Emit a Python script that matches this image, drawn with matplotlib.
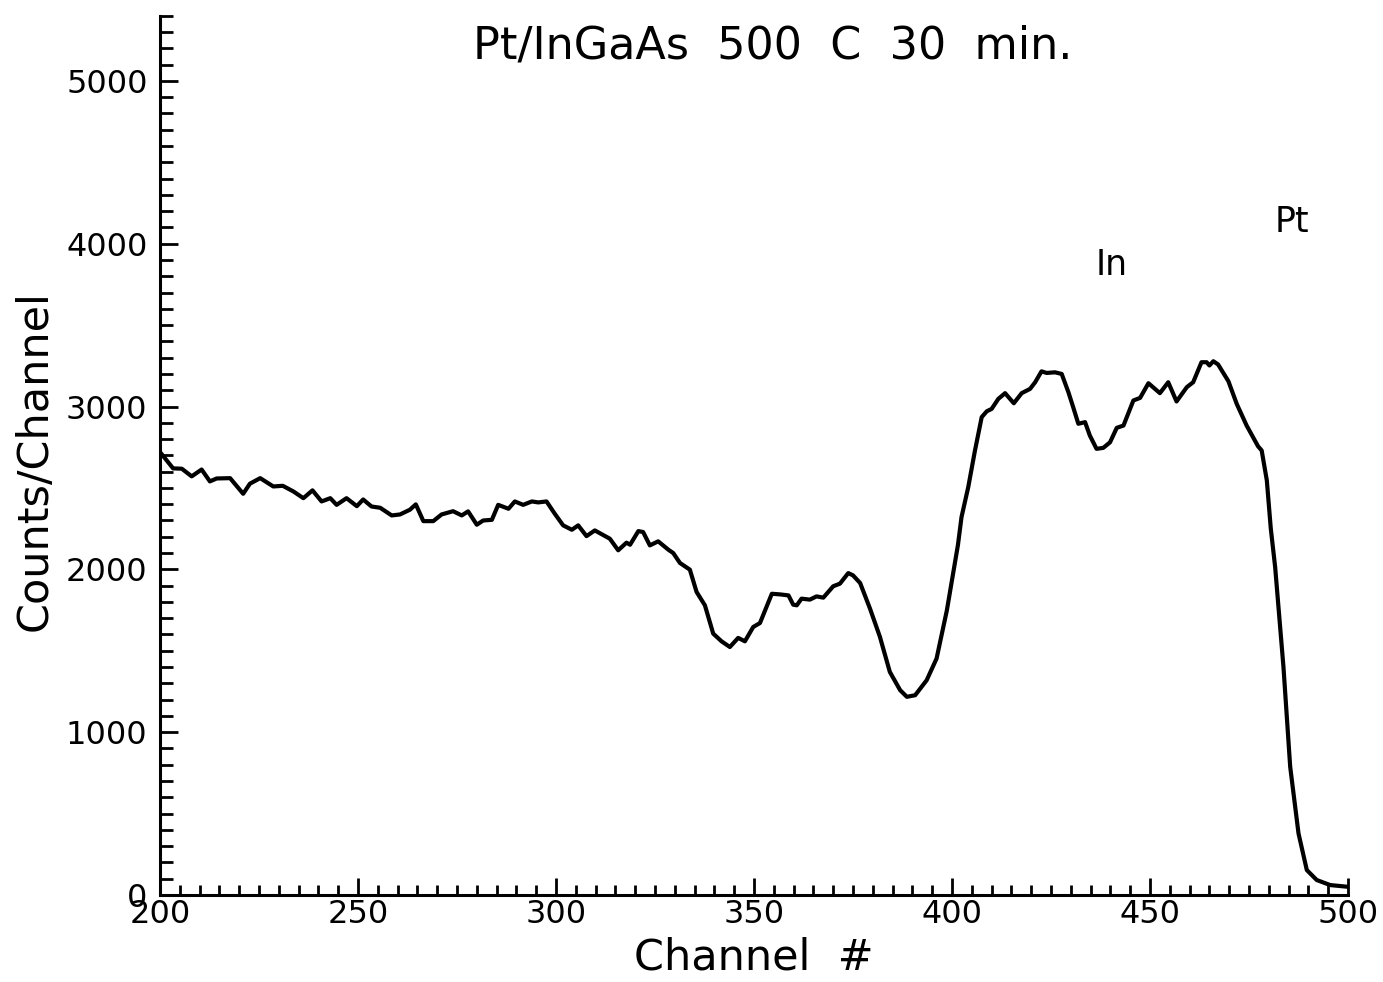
import matplotlib
matplotlib.use("Agg")
import matplotlib.pyplot as plt
from matplotlib.ticker import MultipleLocator

# RBS spectrum read channel by channel
channel = [200, 203.3, 205.5, 208, 210.5, 212.6, 214.3, 217.7, 221, 222.7,
           225.3, 228.6, 231, 233.7, 236.2, 238.5, 240.8, 243, 244.6, 247.1,
           249.7, 251.3, 253.4, 255.6, 258.5, 260.6, 263.1, 264.6, 266.5, 269,
           271.1, 274, 276.2, 277.8, 280, 281.6, 283.8, 285.4, 288, 289.6,
           291.7, 293.9, 295.5, 297.6, 299.7, 301.8, 304, 305.6, 307.7, 309.8,
           313.6, 315.7, 317.8, 318.7, 320.8, 322, 323.7, 325.8, 328.4, 329.6,
           331.3, 333.8, 335.5, 337.6, 339.7, 341.8, 343.9, 346, 347.7, 349.8,
           351.5, 354.5, 356.6, 358.7, 359.9, 360.8, 362, 364.1, 365.8, 367.5,
           370, 371.7, 373.8, 375, 376.8, 379.3, 381.8, 384.3, 386.9, 388.6,
           390.7, 393.6, 396.1, 398.7, 401.5, 402.4, 404.1, 405.8, 407.5, 408.8,
           410, 411.7, 413.4, 415.6, 417.6, 419.7, 421, 422.6, 423.9, 426,
           427.7, 429.4, 430.6, 431.9, 433.6, 434.8, 436.5, 438.2, 439.9, 441.6,
           443.3, 445.8, 447.5, 449.6, 452.5, 454.6, 456.7, 459.3, 460.9, 463,
           464.3, 465, 466, 467.2, 469.8, 471.9, 474.4, 477.3, 478.2, 479.5,
           480.5, 481.6, 483.7, 485.4, 487.5, 489.6, 492.1, 495.5, 499.7]
counts = [2720, 2620, 2618, 2571, 2613, 2540, 2558, 2560, 2464, 2526,
          2560, 2509, 2513, 2478, 2437, 2485, 2417, 2437, 2396, 2437,
          2388, 2429, 2386, 2378, 2331, 2337, 2366, 2399, 2296, 2296,
          2337, 2357, 2331, 2356, 2274, 2300, 2304, 2396, 2372, 2417,
          2396, 2417, 2411, 2417, 2341, 2270, 2243, 2270, 2204, 2239,
          2188, 2117, 2164, 2151, 2235, 2229, 2147, 2172, 2120, 2100,
          2039, 1998, 1861, 1779, 1605, 1558, 1523, 1579, 1558, 1646,
          1670, 1850, 1846, 1840, 1783, 1779, 1820, 1814, 1834, 1826,
          1896, 1912, 1977, 1963, 1916, 1758, 1585, 1370, 1258, 1217,
          1227, 1319, 1452, 1748, 2150, 2321, 2505, 2730, 2935, 2971,
          2985, 3047, 3082, 3020, 3082, 3108, 3149, 3216, 3206, 3210,
          3200, 3087, 2996, 2894, 2904, 2822, 2740, 2746, 2780, 2869,
          2883, 3037, 3053, 3143, 3082, 3149, 3031, 3119, 3149, 3272,
          3272, 3252, 3278, 3258, 3155, 3016, 2883, 2755, 2730, 2546,
          2250, 2014, 1400, 787, 378, 153, 92, 61, 51]

# element edge labels (channel, counts)
peak_names = ["In", "Pt"]
peak_pos = [(440.2, 3871), (485.9, 4135)]

plt.rcParams['font.family'] = ['DejaVu Sans']

fig = plt.figure(figsize=(13.83, 9.82), dpi=100)
ax = fig.add_axes([0.1157, 0.0886, 0.859, 0.8954])

ax.plot(channel, counts, color='black', linewidth=3.0, solid_joinstyle='round')

ax.set_xlim(200, 500)
ax.set_ylim(0, 5400)
ax.spines['top'].set_visible(False)
ax.spines['right'].set_visible(False)
ax.spines['left'].set_linewidth(2.2)
ax.spines['bottom'].set_linewidth(2.2)

ax.xaxis.set_major_locator(MultipleLocator(50))
ax.xaxis.set_minor_locator(MultipleLocator(5))
ax.yaxis.set_major_locator(MultipleLocator(1000))
ax.yaxis.set_minor_locator(MultipleLocator(100))
ax.tick_params(axis='both', which='both', direction='in', width=2.0,
               labelsize=23, colors='black')
ax.tick_params(axis='x', which='major', length=12, pad=3)
ax.tick_params(axis='x', which='minor', length=7.5)
ax.tick_params(axis='y', which='major', length=13, pad=9)
ax.tick_params(axis='y', which='minor', length=9)

ax.set_xlabel('Channel  #', fontsize=31)
ax.set_ylabel('Counts/Channel', fontsize=31)
ax.xaxis.set_label_coords(0.5, -0.047)
ax.yaxis.set_label_coords(-0.088, 0.494)

ax.text(354.8, 5215, 'Pt/InGaAs  500  C  30  min.', fontsize=32,
        ha='center', va='center')
for name, (x, y) in zip(peak_names, peak_pos):
    ax.text(x, y, name, fontsize=25, ha='center', va='center')

fig.savefig('out.png', dpi=100)
